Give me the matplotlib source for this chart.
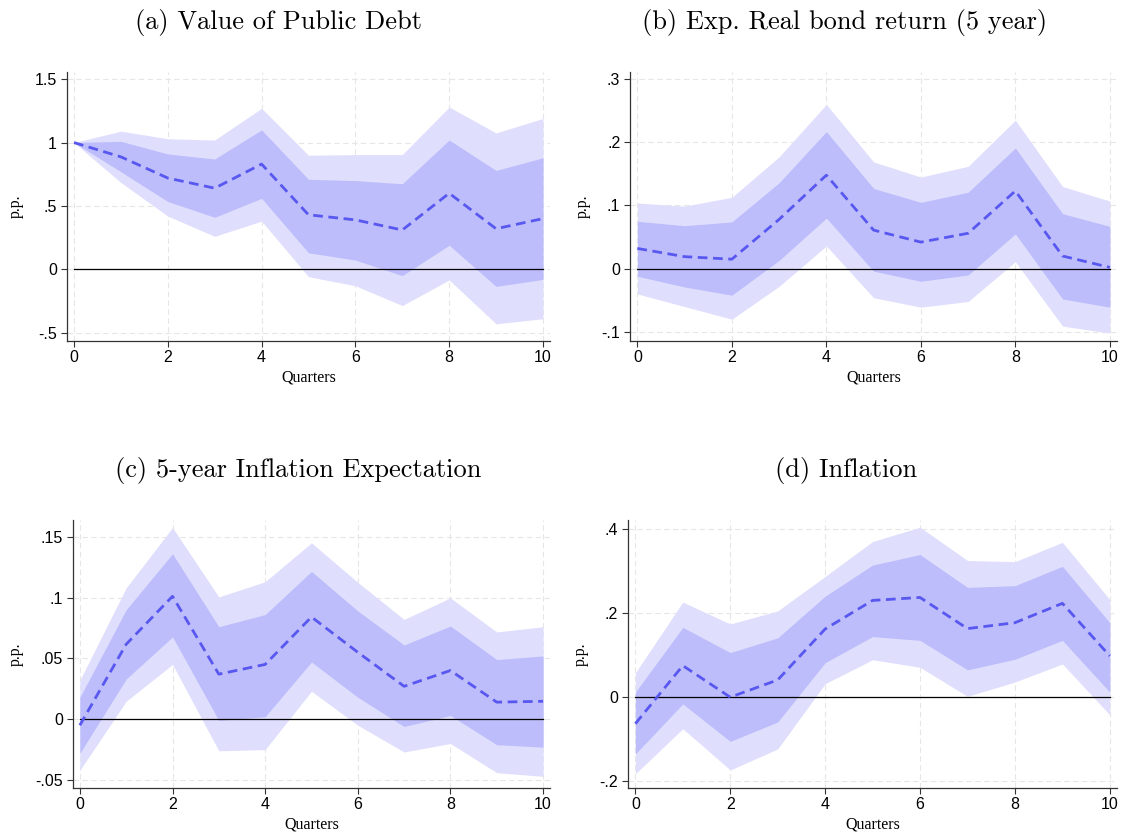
import matplotlib
matplotlib.use("Agg")
from matplotlib import pyplot as plt
import numpy as np

quarters = np.arange(11)

# (a) value of public debt
irf_a = [1.0, 0.887, 0.72, 0.64, 0.83, 0.43, 0.39, 0.31, 0.60, 0.32, 0.40]
hi68_a = [1.0, 1.01, 0.91, 0.87, 1.10, 0.71, 0.70, 0.675, 1.02, 0.78, 0.88]
lo68_a = [1.0, 0.77, 0.535, 0.41, 0.56, 0.13, 0.073, -0.05, 0.19, -0.135, -0.08]
hi90_a = [1.0, 1.09, 1.03, 1.02, 1.27, 0.90, 0.905, 0.905, 1.28, 1.076, 1.19]
lo90_a = [1.0, 0.685, 0.42, 0.26, 0.38, -0.058, -0.13, -0.286, -0.084, -0.43, -0.39]

# (b) expected real bond return, 5 year
irf_b = [0.032, 0.019, 0.015, 0.078, 0.148, 0.061, 0.042, 0.056, 0.123, 0.020, 0.002]
hi68_b = [0.075, 0.068, 0.074, 0.136, 0.217, 0.127, 0.105, 0.121, 0.191, 0.087, 0.067]
lo68_b = [-0.012, -0.029, -0.042, 0.013, 0.080, -0.004, -0.020, -0.010, 0.055, -0.048, -0.061]
hi90_b = [0.104, 0.099, 0.113, 0.177, 0.260, 0.169, 0.145, 0.162, 0.235, 0.130, 0.107]
lo90_b = [-0.040, -0.060, -0.080, -0.028, 0.036, -0.046, -0.061, -0.052, 0.011, -0.091, -0.102]

# (c) 5-year inflation expectation
irf_c = [-0.005, 0.0616, 0.101, 0.037, 0.045, 0.084, 0.055, 0.027, 0.040, 0.014, 0.0147]
hi68_c = [0.018, 0.090, 0.136, 0.076, 0.086, 0.1215, 0.089, 0.061, 0.0766, 0.049, 0.052]
lo68_c = [-0.028, 0.033, 0.0676, -0.001, 0.002, 0.047, 0.018, -0.006, 0.003, -0.021, -0.023]
hi90_c = [0.032, 0.108, 0.1575, 0.1005, 0.113, 0.145, 0.1125, 0.082, 0.0997, 0.0717, 0.076]
lo90_c = [-0.042, 0.0147, 0.045, -0.026, -0.025, 0.023, -0.005, -0.027, -0.020, -0.044, -0.047]

# (d) inflation
irf_d = [-0.063, 0.075, 0.0, 0.041, 0.162, 0.230, 0.237, 0.163, 0.177, 0.223, 0.098]
hi68_d = [0.012, 0.166, 0.106, 0.141, 0.240, 0.314, 0.339, 0.261, 0.265, 0.311, 0.177]
lo68_d = [-0.135, -0.016, -0.105, -0.059, 0.082, 0.144, 0.135, 0.065, 0.090, 0.135, 0.012]
hi90_d = [0.058, 0.226, 0.174, 0.205, 0.287, 0.370, 0.404, 0.325, 0.322, 0.368, 0.232]
lo90_d = [-0.182, -0.075, -0.173, -0.123, 0.032, 0.089, 0.071, 0.002, 0.036, 0.079, -0.042]

titles = ["(a) Value of Public Debt", "(b) Exp. Real bond return (5 year)",
          "(c) 5-year Inflation Expectation", "(d) Inflation"]
yticks = [[-0.5, 0, 0.5, 1, 1.5], [-0.1, 0, 0.1, 0.2, 0.3],
          [-0.05, 0, 0.05, 0.1, 0.15], [-0.2, 0, 0.2, 0.4]]
ylims = [(-0.563, 1.558), (-0.114, 0.3116), (-0.0563, 0.1637), (-0.215, 0.421)]
xticks = [0, 2, 4, 6, 8, 10]

panels = [
    (irf_a, lo68_a, hi68_a, lo90_a, hi90_a),
    (irf_b, lo68_b, hi68_b, lo90_b, hi90_b),
    (irf_c, lo68_c, hi68_c, lo90_c, hi90_c),
    (irf_d, lo68_d, hi68_d, lo90_d, hi90_d),
]

# axes boxes in figure fractions: left, bottom, width, height
boxes = [
    [0.0591, 0.592, 0.4285, 0.322],
    [0.5585, 0.592, 0.4317, 0.322],
    [0.0644, 0.0567, 0.4232, 0.3205],
    [0.5567, 0.0567, 0.4335, 0.3205],
]
title_pos = [(0.2465, 0.973), (0.749, 0.973), (0.264, 0.437), (0.750, 0.437)]

TITLE_FONT = "cmr10"
LABEL_FONT = "Liberation Serif"
TICK_FONT = "Liberation Sans"


def stata_label(v):
    s = ("%g" % v)
    if s.startswith("0."):
        s = s[1:]
    elif s.startswith("-0."):
        s = "-" + s[2:]
    return s


fig = plt.figure(figsize=(11.28, 8.35), dpi=100)

for i, (irf, lo68, hi68, lo90, hi90) in enumerate(panels):
    ax = fig.add_axes(boxes[i])
    ax.fill_between(quarters, lo90, hi90, color="#dfdffd", lw=0, zorder=1)
    ax.fill_between(quarters, lo68, hi68, color="#bdbdfb", lw=0, zorder=2)
    ax.plot(quarters, irf, color="#5858f0", lw=2.0, linestyle=(0, (3.5, 2)), zorder=4)
    ax.plot([0, 10], [0, 0], color="black", lw=0.9, zorder=3)

    ax.set_xlim(-0.156, 10.15)
    ax.set_ylim(*ylims[i])
    ax.set_xticks(xticks)
    ax.set_yticks(yticks[i])
    ax.set_yticklabels([stata_label(v) for v in yticks[i]])
    ax.set_xticklabels([str(v) for v in xticks])
    for lab in ax.get_xticklabels() + ax.get_yticklabels():
        lab.set_fontfamily(TICK_FONT)
        lab.set_fontsize(11.5)
        lab.set_color("black")

    ax.grid(True, color="#e6e6e6", linestyle=(0, (5, 3)), lw=0.8, zorder=0)
    ax.set_axisbelow(True)
    for side in ["top", "right"]:
        ax.spines[side].set_visible(False)
    for side in ["left", "bottom"]:
        ax.spines[side].set_color("#333333")
        ax.spines[side].set_linewidth(0.9)
    ax.tick_params(direction="out", length=4, width=0.8, color="#333333", pad=3)

    ax.set_xlabel("Quarters", fontfamily=LABEL_FONT, fontsize=11.5, labelpad=3)
    ax.set_ylabel("p.p.", fontfamily=LABEL_FONT, fontsize=11.5, labelpad=8)

    fig.text(title_pos[i][0], title_pos[i][1], titles[i], fontfamily=TITLE_FONT,
             fontsize=19, ha="center", va="center")

fig.savefig("out.png", dpi=100, facecolor="white")
